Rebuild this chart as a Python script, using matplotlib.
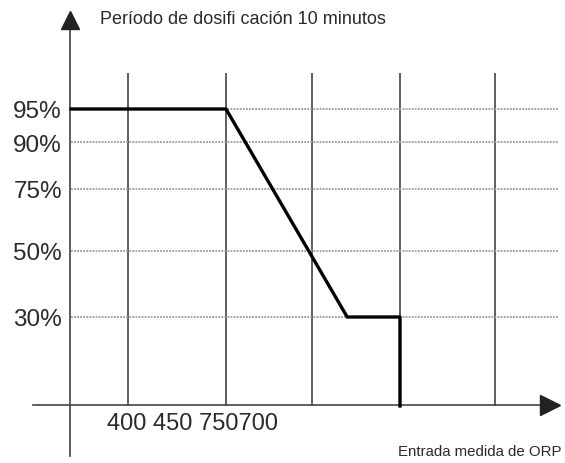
import numpy as np
import matplotlib.pyplot as plt

plt.rcParams['font.family'] = ['Liberation Sans', 'DejaVu Sans']

# curva de dosificación: entrada ORP -> periodo de dosificación (%)
orp = [350, 450, 720, 750, 750]
periodo = [95, 95, 30, 30, 0]

niveles = [95, 90, 75, 50, 30]
etiquetas_y = ['95%', '90%', '75%', '50%', '30%']
rejilla_x = [400, 450, 700, 750, 800]
etiqueta_x = '400 450 750700'
titulo = 'Período de dosifi cación 10 minutos'
titulo_x = 'Entrada medida de ORP'

W, H = 565, 464

# the drawing is a schematic, not to scale: piecewise axes
ax_orp = [250, 300, 350, 400, 450, 700, 750, 800, 850]
ax_px = [0, 33, 71, 128, 226, 312, 400, 495, 565]
ay_pct = [-30, 0, 30, 50, 75, 90, 95, 120, 150]
ay_px = [0, 57, 146, 212, 274, 321, 354, 390, 464]


def fx(v):
    return np.interp(v, ax_orp, ax_px)


def fx_inv(v):
    return np.interp(v, ax_px, ax_orp)


def fy(v):
    return np.interp(v, ay_pct, ay_px)


def fy_inv(v):
    return np.interp(v, ay_px, ay_pct)


fig = plt.figure(figsize=(W / 100, H / 100), dpi=100)
ax = fig.add_axes([0, 0, 1, 1])
ax.set_xscale('function', functions=(fx, fx_inv))
ax.set_yscale('function', functions=(fy, fy_inv))
ax.set_xlim(250, 850)
ax.set_ylim(-30, 150)
ax.axis('off')

# vertical grid
ax.vlines(rejilla_x, 0, 120, color='#333333', lw=1.1, zorder=1)
# dotted levels
ax.hlines(niveles, 350, 846, color='#999999', lw=1.3,
          linestyles=(0, (1, 0.7)), zorder=1)

# axes with arrows (pixel fractions)
tr = ax.transAxes
ax.plot([70 / W, 70 / W], [1 - 457 / H, 1 - 25 / H], color='#444444',
        lw=1.2, transform=tr, zorder=2)
ax.plot([70 / W], [1 - 21 / H], marker='^', ms=13, color='#222222',
        transform=tr, zorder=3)
ax.plot([33 / W, 545 / W], [1 - 406 / H, 1 - 406 / H], color='#444444',
        lw=1.2, transform=tr, zorder=2)
ax.plot([550 / W], [1 - 406 / H], marker='>', ms=14, color='#222222',
        transform=tr, zorder=3)

# dosing curve
ax.plot(orp, periodo, color='black', lw=2.4, zorder=4)

for n, lab in zip(niveles, etiquetas_y):
    ax.text(62 / W, n, lab, transform=ax.get_yaxis_transform(),
            ha='right', va='center_baseline', fontsize=17.5, color='#2a2a2a')

ax.text(107 / W, 1 - 424 / H, etiqueta_x, transform=tr, ha='left',
        va='center', fontsize=17, color='#2a2a2a')
ax.text(100 / W, 1 - 19 / H, titulo, transform=tr, ha='left',
        va='center', fontsize=13, color='#2a2a2a')
ax.text(562 / W, 1 - 452 / H, titulo_x, transform=tr, ha='right',
        va='center', fontsize=10.8, color='#2a2a2a')

fig.savefig('out.png', dpi=100)
